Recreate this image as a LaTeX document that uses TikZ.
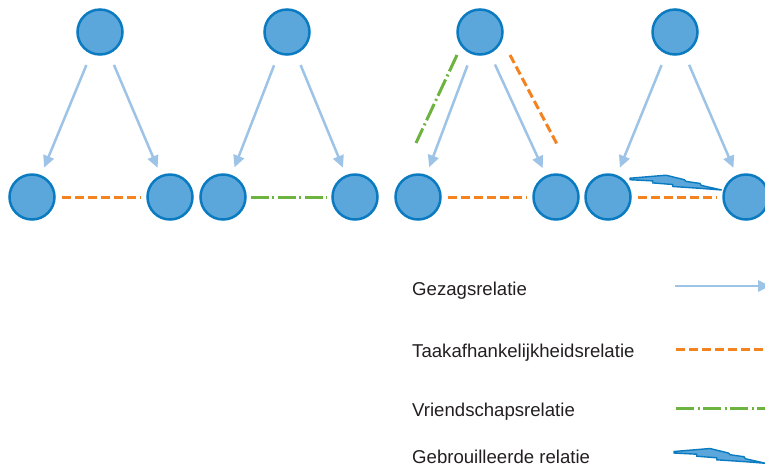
\documentclass[tikz,border=0pt]{standalone}
\usepackage{fontspec}
\setmainfont{Liberation Sans}
\usetikzlibrary{arrows.meta}
\definecolor{cfill}{HTML}{5BA6DB}
\definecolor{cdraw}{HTML}{0A7BC0}
\definecolor{carrow}{HTML}{9DC3E6}
\definecolor{corange}{HTML}{F58220}
\definecolor{cgreen}{HTML}{6CB33F}
\definecolor{ctext}{HTML}{231F20}
\tikzset{
  actor/.style={circle, minimum size=45pt, inner sep=0pt, fill=cfill, draw=cdraw, line width=2.5pt},
  gezag/.style={draw=carrow, line width=2.5pt, -{Triangle[length=12pt,width=11pt]}, shorten <=12pt, shorten >=8pt},
  taak/.style={draw=corange, line width=3pt, dash pattern=on 9pt off 4pt},
  vriend/.style={draw=cgreen, line width=3pt, dash pattern=on 18pt off 3.5pt on 2pt off 3.5pt},
  hside/.style={shorten <=6pt, shorten >=6pt},
  boltstyle/.style={fill=cfill, draw=cdraw, line width=1.4pt, line join=miter},
  legendtext/.style={anchor=base west, inner sep=0pt, text=ctext, font=\fontsize{18.6}{22}\selectfont},
  bolt/.pic={
    \draw[boltstyle] (0,-0.5) -- (36,-3.5) -- (54.3,1) -- (56,2.7) -- (70,4.7) -- (71.3,6.7) -- (91.7,11.3)
      -- (72.7,9.8) -- (42.7,7.8) -- (42.7,5.8) -- (22.7,4.2) -- (22.7,2.2) -- (0,1) -- cycle;
  }
}
\begin{document}
\begin{tikzpicture}[x=1pt,y=-1pt]
\useasboundingbox (0,0) rectangle (765,467);
% group 1
\node[actor] (t1) at (100,32) {};
\node[actor] (l1) at (32,197) {};
\node[actor] (r1) at (170,197) {};
\draw[gezag] (t1) -- (l1);
\draw[gezag] (t1) -- (r1);
\draw[taak, hside] (l1) -- (r1);
% group 2
\node[actor] (t2) at (287,32) {};
\node[actor] (l2) at (223,197) {};
\node[actor] (r2) at (355,197) {};
\draw[gezag] (t2) -- (l2);
\draw[gezag] (t2) -- (r2);
\draw[vriend, shorten <=4pt, shorten >=4pt] (l2) -- (r2);
% group 3
\node[actor] (t3) at (480,32) {};
\node[actor] (l3) at (418,197) {};
\node[actor] (r3) at (556,197) {};
\draw[gezag] (t3) -- (l3);
\draw[gezag] (t3) -- (r3);
\draw[taak, hside] (l3) -- (r3);
\coordinate (g3a) at (457,55);
\coordinate (g3b) at (416,143);
\coordinate (o3a) at (510,55);
\coordinate (o3b) at (558,146);
\draw[vriend] (g3a) -- (g3b);
\draw[taak] (o3a) -- (o3b);
% group 4
\node[actor] (t4) at (675,32) {};
\node[actor] (l4) at (608,197) {};
\node[actor] (r4) at (746,197) {};
\draw[gezag] (t4) -- (l4);
\draw[gezag] (t4) -- (r4);
\draw[taak, hside] (l4) -- (r4);
\pic at (630,178.7) {bolt};
% legend
\node[legendtext] (lg1) at (412,295) {Gezagsrelatie};
\node[legendtext] (lg2) at (412,357) {Taakafhankelijkheidsrelatie};
\node[legendtext] (lg3) at (412,416) {Vriendschapsrelatie};
\node[legendtext] (lg4) at (412,463) {Gebrouilleerde relatie};
\coordinate (a1) at (675,286);
\coordinate (a2) at (770,286);
\coordinate (b1) at (676,349);
\coordinate (b2) at (775,349);
\coordinate (c1) at (676,408);
\coordinate (c2) at (775,408);
\draw[draw=carrow, line width=2.5pt, -{Triangle[length=12pt,width=11pt]}] (a1) -- (a2);
\draw[taak] (b1) -- (b2);
\draw[vriend] (c1) -- (c2);
\pic at (674,452) {bolt};
\end{tikzpicture}
\end{document}
